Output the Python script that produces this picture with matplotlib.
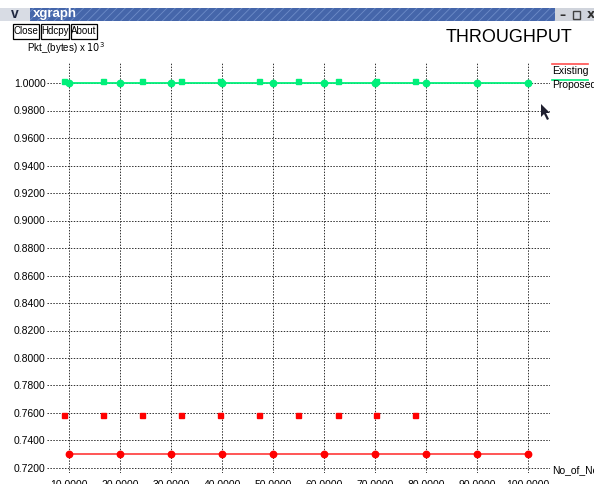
import matplotlib.pyplot as plt
from matplotlib.lines import Line2D
from matplotlib.patches import Rectangle, Polygon

plt.rcParams['font.family'] = ['Liberation Sans Narrow', 'Liberation Sans', 'DejaVu Sans']
plt.rcParams['hatch.linewidth'] = 0.6

# throughput per number of nodes
nodes = [10, 20, 30, 40, 50, 60, 70, 80, 90, 100]
existing = [0.7300, 0.7300, 0.7300, 0.7300, 0.7300, 0.7300, 0.7300, 0.7300, 0.7300, 0.7300]
proposed = [1.0000, 1.0000, 1.0000, 1.0000, 1.0000, 1.0000, 1.0000, 1.0000, 1.0000, 1.0000]

# intermediate samples drawn as point markers only
sample_nodes = [9.0, 16.7, 24.3, 32.0, 39.6, 47.2, 55.0, 62.7, 70.2, 77.9]
existing_samples = [0.7585, 0.7585, 0.7585, 0.7585, 0.7585, 0.7585, 0.7585, 0.7585, 0.7585, 0.7585]
proposed_samples = [1.0015, 1.0015, 1.0015, 1.0015, 1.0015, 1.0015, 1.0015, 1.0015, 1.0015, 1.0015]

y_ticks = [0.72 + 0.02 * i for i in range(15)]

W, H = 594, 484
fig = plt.figure(figsize=(W / 100, H / 100), dpi=100)
fig.patch.set_facecolor('white')


def px(x, y):
    return x / W, 1 - y / H


# window frame: title bar and buttons
fig.add_artist(Rectangle(px(0, 21), 1, 13 / H, transform=fig.transFigure,
                         facecolor='#4566aa', edgecolor='#6d8cc8', hatch='////', lw=0))
fig.add_artist(Rectangle(px(0, 21), 30 / W, 13 / H, transform=fig.transFigure,
                         facecolor='#d8dce4', edgecolor='none'))
fig.text(*px(15, 14.5), 'v', transform=fig.transFigure, fontsize=10, fontweight='bold',
         ha='center', va='center', color='#202840', family=['Liberation Sans', 'DejaVu Sans'])
fig.text(*px(33, 14.5), 'xgraph', transform=fig.transFigure, fontsize=9.5, fontweight='bold',
         ha='left', va='center', color='white', family=['Liberation Sans', 'DejaVu Sans'])
fig.add_artist(Rectangle(px(555, 21), 39 / W, 13 / H, transform=fig.transFigure,
                         facecolor='#d0d4dc', edgecolor='none'))
fig.text(*px(562, 15), '\u2013', transform=fig.transFigure, fontsize=9, fontweight='bold',
         ha='center', va='center', color='#303030', family=['DejaVu Sans'])
fig.add_artist(Rectangle(px(573, 19), 7 / W, 8 / H, transform=fig.transFigure,
                         facecolor='none', edgecolor='#404040', lw=1))
fig.text(*px(591, 14.5), 'x', transform=fig.transFigure, fontsize=9, fontweight='bold',
         ha='center', va='center', color='#303030', family=['DejaVu Sans'])

for label, x0, x1 in [('Close', 13, 39), ('Hdcpy', 41, 69), ('About', 71, 97)]:
    fig.add_artist(Rectangle(px(x0, 39), (x1 - x0) / W, 15 / H, transform=fig.transFigure,
                             facecolor='white', edgecolor='black', lw=0.9))
    fig.text(*px((x0 + x1) / 2, 31.5), label, transform=fig.transFigure, fontsize=7,
             ha='center', va='center', color='black')

fig.text(*px(572, 38), 'THROUGHPUT', transform=fig.transFigure, fontsize=13,
         ha='right', va='center', color='black')
fig.text(*px(27, 48), r'Pkt_(bytes) x $10^3$', transform=fig.transFigure, fontsize=7,
         ha='left', va='center', color='black')

# plot area
left, right, top, bottom = 47, 550, 63, 473
ax = fig.add_axes([left / W, 1 - bottom / H, (right - left) / W, (bottom - top) / H])
ax.set_xlim(10 - (69 - left) / 5.1, 10 + (right - 69) / 5.1)
ax.set_ylim(0.72 - (bottom - 468) / 1375, 1.0 + (83 - top) / 1375)
for s in ax.spines.values():
    s.set_visible(False)
ax.set_xticks(nodes)
ax.set_xticklabels([f'{v:.4f}' for v in nodes])
ax.set_yticks(y_ticks)
ax.set_yticklabels([f'{v:.4f}' for v in y_ticks])
ax.tick_params(length=0, labelsize=7.5)
ax.tick_params(axis='y', pad=1)
ax.tick_params(axis='x', pad=5)
ax.grid(True, color='#303030', linestyle=(0, (1.5, 1.5)), linewidth=0.7)
ax.set_axisbelow(True)

red = '#ff0000'
green = '#00f07a'
ax.plot(nodes, existing, color='#ff4848', lw=1.3, marker='o', ms=4.6, mfc=red, mec=red, zorder=3)
ax.plot(nodes, proposed, color=green, lw=1.3, marker='o', ms=4.6, mfc=green, mec=green, zorder=3)
ax.plot(sample_nodes, existing_samples, ls='none', marker='s', ms=3.6, mfc=red, mec=red, zorder=3)
ax.plot(sample_nodes, proposed_samples, ls='none', marker='s', ms=3.6, mfc=green, mec=green, zorder=3)

fig.text(*px(552, 470), 'No_of_Nodes', transform=fig.transFigure, fontsize=7.5,
         ha='left', va='center', color='black')

# legend drawn as line above name
fig.add_artist(Line2D([552 / W, 588 / W], [1 - 64 / H, 1 - 64 / H], color='#ff5050', lw=1.2,
                      transform=fig.transFigure))
fig.text(*px(552, 70.5), 'Existing', transform=fig.transFigure, fontsize=7.5,
         ha='left', va='center', color='black')
fig.add_artist(Line2D([552 / W, 588 / W], [1 - 80 / H, 1 - 80 / H], color=green, lw=1.2,
                      transform=fig.transFigure))
fig.text(*px(552, 85.5), 'Proposed', transform=fig.transFigure, fontsize=7.5,
         ha='left', va='center', color='black')

# pointer
fig.add_artist(Polygon([px(541, 104), px(541, 117), px(544, 114), px(547, 120),
                        px(549, 119), px(546, 113), px(550, 113)],
                       closed=True, transform=fig.transFigure, facecolor='#202030',
                       edgecolor='none'))

fig.savefig('out.png', dpi=100)
